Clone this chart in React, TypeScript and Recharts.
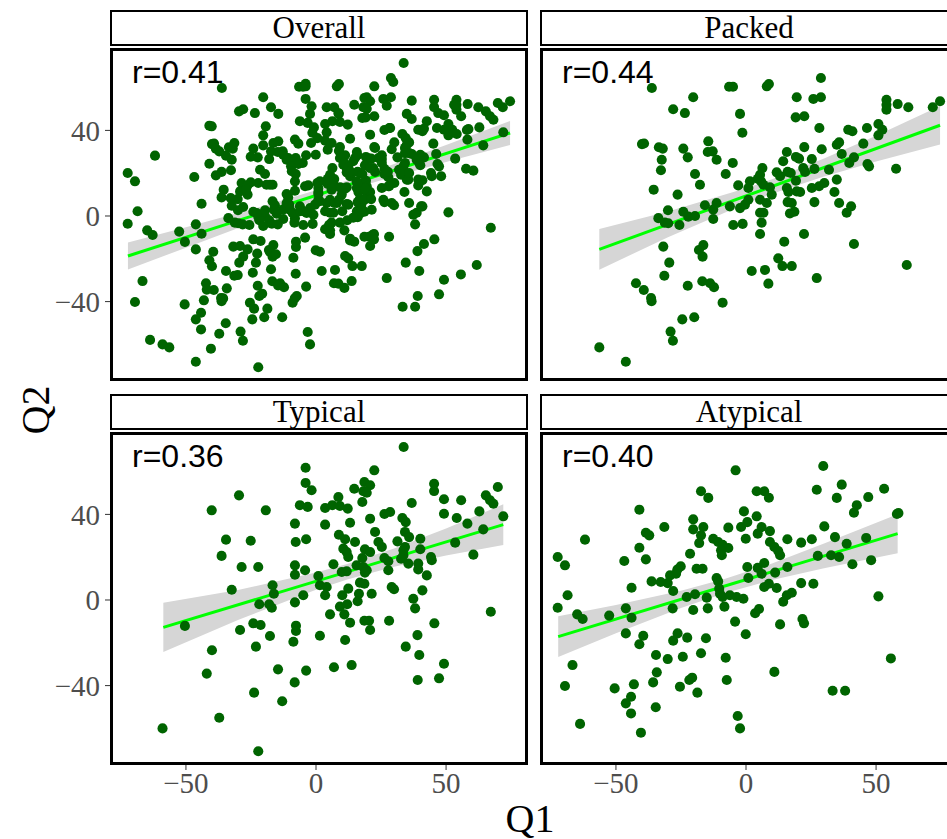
import {
  Area,
  ComposedChart,
  Line,
  Scatter,
  XAxis,
  YAxis,
  ZAxis,
} from "recharts"

const packedPts: number[][] = [
  [-36.2, 59.8], [-6.5, 60.4], [-5, 60.4], [-20.3, 55.5], [-28, 49.9], [-23.5, 48.1], [-2.3, 47.7], [-1.4, 38.9],
  [-40, 33.6], [-39.2, 33.9], [-33.5, 32.1], [-32, 31.5], [-14.5, 34.9], [-24.1, 31.5], [-14.7, 29.9], [-12.8, 30.2],
  [-22.4, 27.4], [-32.4, 26.3], [-11.3, 26.3], [-5.1, 24.8], [-32.7, 21.4], [-19.6, 19.6], [-7.8, 19.6], [-17.7, 14.6],
  [-3, 14.3], [-35.5, 12.3], [-26.3, 10], [-30, 2.7], [-33.7, -1], [-24.1, 2], [-15.8, 5], [-11.3, 6.1], [-12.6, 3],
  [-6.2, 4.5], [-2.3, 3.7], [-0.4, 5.3], [0.9, 7.6],
  [-31.2, -3.1], [-29.9, -3.4], [-25.6, -4.2], [-22.2, -0.3], [-19.6, 0], [-12.6, -1.4], [-4.9, -4.2], [-1.3, -3.7],
  [-31.8, -14.3], [-29.5, -21.8], [-31.4, -27.9], [-16.4, -13.6], [-18.1, -15.9], [-16.7, -19], [2.2, -25.7],
  [-42.3, -31.4], [-39.3, -34.6], [-36.5, -38.3], [-36.3, -39.8], [-22.4, -32.6], [-16.8, -30.5], [-13.8, -31.4],
  [-12.3, -33.3], [-9, -40.5], [-24.5, -48.3], [-19.9, -47.3], [-29, -54], [-28.1, -58.3], [-56.4, -61.4], [-46.2, -68.1],
  [5.4, 1.5], [6.7, 1.5], [16.9, 1.2], [18.6, 2], [38.7, 1.5], [40.4, 4.5], [6, -3.1], [5.4, -8.4], [14.7, -12],
  [22.3, -8.4], [41.5, -13.1], [12.4, -19.8], [14, -23.4], [17.6, -23.4], [7.3, -25.2], [8.6, -31.6], [27.2, -29], [61.8, -22.9],
  [28.8, 64.5], [8, 60.6], [8.8, 61.7], [19.5, 55.5], [25.9, 54.7], [28.8, 55.5], [54, 54.3], [54, 52], [54, 49.7],
  [58.3, 52.3], [62.4, 50.8], [71.8, 50.8], [74.6, 53.6], [19.1, 46.1], [22.4, 46.6], [28.2, 41.1], [39.3, 40.3],
  [40.9, 39.6], [46.5, 41.1], [50.9, 43], [52.4, 40.3], [50.9, 37.7], [22.4, 32.2], [29.1, 31.2], [34.9, 33.3],
  [35.8, 34.4], [45.1, 33.8], [15.7, 29.9], [19.2, 27.6], [20.4, 26.8], [25.3, 26.6], [36.8, 29], [41.5, 27.4],
  [39.7, 24.8], [46.7, 24.3], [47.3, 23.2], [57.7, 22.1], [14.3, 25.6], [6.3, 22.4], [5.4, 19.3], [4.5, 17.4],
  [11.8, 20.4], [13.1, 18.6], [16, 20.6], [17.2, 20.1], [22, 22.4], [22.7, 20.6], [26.3, 22], [31.9, 21.6],
  [19.2, 16.5], [1.5, 16.2], [0.9, 13.1], [5.8, 16.2], [6.7, 14.6], [9.2, 13.4], [15.7, 13.1], [16.3, 11.2],
  [19.5, 11.5], [20.8, 11.2], [25.3, 13.1], [28.1, 13.9], [30.1, 15.4], [34.9, 17], [34, 11.2], [9.9, 10],
  [5.4, 7.6], [8, 6.1], [16, 6.5], [17.6, 6.1], [26.3, 6.5], [35.8, 6.1],
]

const typicalPts: number[][] = [
  [-4, 61.8], [-4, 54.7], [-1.7, 51.3], [-29.6, 48.9], [-40.1, 41.9], [-19.3, 41.9], [-6.2, 44.3], [-3.2, 43.5],
  [-8.1, 35.7], [-34.6, 28.2], [-25.1, 27.7], [-7.8, 27.1], [-3.8, 28.4], [-36.3, 20.6], [-28.6, 15.4], [-22.2, 15.4],
  [-8.1, 16.2], [-8.1, 11.8], [-4.2, 13.9], [-32.4, 4.8], [-16.7, 6.9], [-16.2, 2.9], [-4.9, 2.2],
  [-50.4, -12.1], [-21.8, -2], [-18, -2], [-17, -3.6], [-8.1, -1.1], [-29.2, -14], [-24.1, -10.9], [-21.3, -11.7],
  [-17.7, -16.8], [-7.7, -12], [-7.7, -14.5], [-8.7, -19.5], [1.5, -16.7], [-23.1, -21.8], [-40, -23.5], [-42, -34.4],
  [-14.6, -32.4], [-3.8, -33], [-8.2, -38.5], [-23.8, -43.3], [-13, -47.3], [-37.2, -55], [-59, -60], [-22.2, -70.7],
  [33.7, 71.5], [22.4, 60.6], [18.6, 55.1], [20.8, 53.6], [14.7, 52], [18.2, 50.8], [19.5, 50.1], [45.4, 54.3],
  [45.4, 50.9], [69.9, 52.8], [65.3, 48.9], [49.2, 47.1], [55.8, 46.6], [66.9, 46.6], [68.2, 45], [8.6, 48.1],
  [17.8, 45.8], [36.8, 45.3], [3.5, 43], [6.3, 44.3], [9.2, 43.9], [12.2, 42.7], [28.5, 41.1], [26.3, 40.2],
  [20.8, 38], [33.2, 38.3], [34.5, 36.4], [49.2, 40.3], [54.1, 38.3], [62.8, 41.4], [58.2, 35.7], [72, 39.1],
  [3.5, 35.2], [13.1, 36.1], [64.3, 33], [22.7, 31.8], [34.2, 31.8], [35.8, 29.4], [8.8, 30.5], [11.2, 28.4],
  [15, 27.1], [24, 27.1], [25.3, 24.8], [31.3, 27.4], [40.1, 28.6], [40.1, 23.7], [53.5, 26.8], [60.5, 21.2],
  [10.5, 24], [11.8, 22.4], [12.4, 20.1], [18.8, 23.7], [20.8, 22.4], [34.2, 24.8], [33.6, 23.2], [33.6, 20.9],
  [26.3, 19.6], [27.8, 18.1], [17.8, 19.6], [44.2, 20.1], [44.5, 18.6], [32.7, 19.3], [6.7, 16.7], [15.6, 16.2],
  [18.2, 15.4], [19.5, 13.9], [35.5, 17], [39.3, 17], [39.3, 14.3], [9.9, 13.1], [11.8, 13.4], [18.8, 12.8],
  [27.8, 13.9], [42.6, 11.5], [0.9, 11.2], [1.5, 6.9], [4.1, 6.1], [16.9, 8.1], [18.6, 7.6], [12.4, 5.3],
  [29.1, 6.1], [30, 5], [40.9, 4.5], [3.5, 2.2], [10.1, 2.2], [16.5, 2.9], [21.4, 2.9], [37.4, 0.6], [16, -0.6],
  [38.1, -3.9], [9.2, -3.1], [12, -2], [5.4, -6.7], [10.9, -6.7], [13.1, -10.6], [18.6, -9.7], [20.4, -9.7],
  [20.8, -14], [28.1, -9.7], [45.5, -10.9], [67.2, -5.5], [11.2, -18.7], [39, -16.4], [34.5, -21.8], [39.7, -25.7],
  [49.2, -29.8], [6.9, -31.4], [13.7, -30.4], [39.1, -37.4], [47.3, -36.6],
]

const atypicalPts: number[][] = [
  [-4, 60.6], [-17.3, 50.8], [-14.5, 47.7], [-41, 42.2], [-0.8, 41.4], [-20.3, 37.7], [-31.4, 34.1], [-20.3, 33],
  [-16.4, 34.1], [-6.8, 33.8], [-1.9, 34.1], [0.5, 36.4], [-38.5, 31.4], [-37.2, 30.2], [-17.3, 30.2], [-61.9, 28.2],
  [-12.6, 28.6], [-10.7, 27.1], [-9, 25.8], [-6.8, 24.3], [-9.6, 23.2], [-9.3, 20.9], [-18, 26.6], [-0.1, 28.6],
  [-41, 24.4], [-72.4, 20.1], [-69.6, 16.2], [-46.8, 18.2], [-38.5, 19], [-21.5, 21.6], [-25.1, 15.7], [-26.4, 14.2],
  [-19, 14.6], [-16.7, 14.6], [-29.2, 11.5], [-26.9, 12.3], [0.5, 15.4], [-36.3, 8.7], [-32.8, 8.4], [-30.1, 7.9],
  [-11.3, 10.3], [-10.7, 8.7], [0.9, 10.3], [-44, 5.7], [-28, 4.2], [-10.3, 5.3], [-10, 2.9], [-68.6, 2.2],
  [-22.8, 1.4], [-19.6, 2.7], [-15.1, 1.1], [-9, 1.4], [-6.2, 2.2], [-3.6, 1.4], [-1, 0.6],
  [-72.4, -3.6], [-64.9, -6.7], [-62.8, -8.9], [-52.6, -7.3], [-46.2, -3.9], [-44, -8.3], [-28.2, -3.9], [-20.3, -4.7],
  [-14.7, -3.9], [-8.3, -3.1], [-4.2, -10.1], [-0.1, -16], [-46.2, -15.6], [-39.5, -16.7], [-41, -20.7], [-26.3, -15.6],
  [-28, -19], [-22.6, -17.6], [-15.4, -17.9], [-66.7, -30.4], [-34.6, -25.7], [-30.1, -27.6], [-24.3, -26.5], [-17.3, -24.9],
  [-7.8, -27], [-34.3, -33.8], [-35.7, -38.5], [-21.8, -37.4], [-20.7, -36.3], [-25.4, -40.5], [-18.7, -43.3], [-7.4, -37.4],
  [-69.6, -40.2], [-50.5, -41.3], [-43.1, -39.4], [-44.2, -45.2], [-46.2, -48.3], [-34.7, -50.1], [-44.2, -53], [-63.8, -57.9],
  [-40.4, -62], [-3.2, -54.2], [-2.3, -60],
  [29.7, 62.6], [36.8, 53.9], [27.2, 51.5], [53.1, 52], [4.1, 50.8], [7, 50.8], [8.8, 47.8], [34.9, 47.7],
  [47, 48.1], [42.6, 44.3], [41.5, 40.8], [58, 40.2], [58.6, 40.6], [4.1, 39.1], [6, 34.1], [4.5, 31],
  [9.2, 32.2], [30.1, 34.4], [15.9, 28.4], [21.2, 26.8], [25.3, 28.4], [34.2, 29.4], [38.7, 26.3], [46.2, 29],
  [9.2, 27.1], [10.9, 24.8], [12.4, 22.9], [13.1, 20.9], [27.6, 20.6], [32.7, 20.9], [35.8, 20.1], [40.9, 16.7],
  [48.1, 18.6], [4.5, 15], [7, 17.3], [15.9, 15.4], [6, 12.3], [11.2, 12.8], [21.2, 7.9], [25.9, 7.6],
  [7, 6.1], [8.8, 7.6], [11.8, 5.6], [15.7, 2.2], [17.6, 3.4], [50.9, 1.7], [14.3, -0.8],
  [3.5, -6.2], [5, -4.2], [13.1, -11.4], [21.7, -8.9], [22.3, -10.9], [55.7, -27.3], [10.9, -33.6], [33.3, -42.4], [38.1, -42.4],
]

// fitted line ends and confidence band (x, low, high)
const overallLine = [[-72.3, -18.7], [74.6, 38.8]]
const overallBand = [[-72.3, -25, -12.4], [-50, -14.8, -5.2], [-25, -3.4, 3], [0, 7.2, 12], [10, 11.2, 15.8], [25, 16.7, 22.1], [50, 25.2, 33.2], [74.6, 33.2, 44.4]]
const packedLine = [[-56.4, -15.6], [74.6, 42.4]]
const packedBand = [[-56.4, -25.1, -6.1], [-30, -9.9, 2.1], [0, 5.8, 13], [10, 10.4, 17.2], [30, 18.5, 26.9], [50, 25.5, 37.5], [74.6, 33.4, 51.4]]
const typicalLine = [[-58.7, -12.8], [72, 35.2]]
const typicalBand = [[-58.7, -24.3, -1.3], [-30, -9.3, 4.7], [0, 4.8, 12.8], [12, 9.6, 16.8], [30, 15.5, 24.1], [50, 20.8, 33.4], [72, 25.7, 44.7]]
const atypicalLine = [[-72.2, -17.1], [58.3, 31]]
const atypicalBand = [[-72.2, -26.6, -7.6], [-50, -15.5, -2.3], [-25, -3.7, 4.3], [-8, 3.3, 9.9], [10, 9.3, 17.1], [30, 14.8, 26.4], [58.3, 21.9, 40.1]]

const xTicks = [-50, 0, 50]
const yTicks = [-40, 0, 40]

const SERIF = '"Liberation Serif", "Times New Roman", serif'
const SANS = '"Liberation Sans", Arial, sans-serif'
const minus = (v: number) => String(v).replace("-", "\u2212")

function Panel({ title, r, pts, line, band, left, top, showX, showY }: {
  title: string
  r: string
  pts: number[][]
  line: number[][]
  band: number[][]
  left: number
  top: number
  showX: boolean
  showY: boolean
}) {
  const axisW = showY ? 110 : 0
  const axisH = showX ? 50 : 0
  const plotL = left + axisW
  const tick = { fontSize: 29, fill: "#4d4d4d", fontFamily: SERIF }
  return (
    <>
      <div style={{ position: "absolute", left: plotL, top: top - 38, width: 418, height: 36, border: "2px solid #000", boxSizing: "border-box", fontFamily: SERIF, fontSize: 31, textAlign: "center", lineHeight: "32px", background: "#fff" }}>
        {title}
      </div>
      <div style={{ position: "absolute", left, top }}>
        <ComposedChart width={axisW + 418} height={333 + axisH} margin={{ top: 0, right: 0, bottom: 0, left: 0 }}>
          <XAxis type="number" dataKey="x" domain={[-79.2, 81.5]} ticks={xTicks} allowDataOverflow hide={!showX}
            height={axisH} tick={tick} tickFormatter={minus} tickSize={5} tickMargin={2} axisLine={false} tickLine={{ stroke: "#333" }} />
          <YAxis type="number" dataKey="y" domain={[-77.1, 78.5]} ticks={yTicks} allowDataOverflow hide={!showY}
            width={axisW} tick={tick} tickFormatter={minus} tickSize={5} tickMargin={5} axisLine={false} tickLine={{ stroke: "#333" }} />
          <ZAxis range={[80, 80]} />
          <Area data={band.map(([x, lo, hi]) => ({ x, band: [lo, hi] }))} dataKey="band" stroke="none" fill="#d6d6d6" fillOpacity={1} isAnimationActive={false} />
          <Scatter data={pts.map(([x, y]) => ({ x, y }))} dataKey="y" fill="#006400" isAnimationActive={false} />
          <Line data={line.map(([x, y]) => ({ x, y }))} dataKey="y" stroke="#00ff00" strokeWidth={3} dot={false} activeDot={false} isAnimationActive={false} />
        </ComposedChart>
      </div>
      <div style={{ position: "absolute", left: plotL, top, width: 418, height: 333, border: "3px solid #000", boxSizing: "border-box", pointerEvents: "none" }} />
      <div style={{ position: "absolute", left: plotL + 22, top: top + 7, fontFamily: SANS, fontSize: 32, lineHeight: "34px", color: "#000" }}>
        {r}
      </div>
    </>
  )
}

export default function App() {
  const overallPts = [...packedPts, ...typicalPts, ...atypicalPts]
  return (
    <div style={{ position: "absolute", left: 0, top: 0, width: 947, height: 839, overflow: "hidden", background: "#fff" }}>
      <Panel title="Overall" r="r=0.41" pts={overallPts} line={overallLine} band={overallBand} left={0} top={48} showX={false} showY />
      <Panel title="Packed" r="r=0.44" pts={packedPts} line={packedLine} band={packedBand} left={540} top={48} showX={false} showY={false} />
      <Panel title="Typical" r="r=0.36" pts={typicalPts} line={typicalLine} band={typicalBand} left={0} top={432} showX showY />
      <Panel title="Atypical" r="r=0.40" pts={atypicalPts} line={atypicalLine} band={atypicalBand} left={540} top={432} showX showY={false} />
      <div style={{ position: "absolute", left: 35, top: 410, transform: "translate(-50%, -50%) rotate(-90deg)", fontFamily: SERIF, fontSize: 40 }}>Q2</div>
      <div style={{ position: "absolute", left: 530, top: 818, transform: "translate(-50%, -50%)", fontFamily: SERIF, fontSize: 40 }}>Q1</div>
    </div>
  )
}
